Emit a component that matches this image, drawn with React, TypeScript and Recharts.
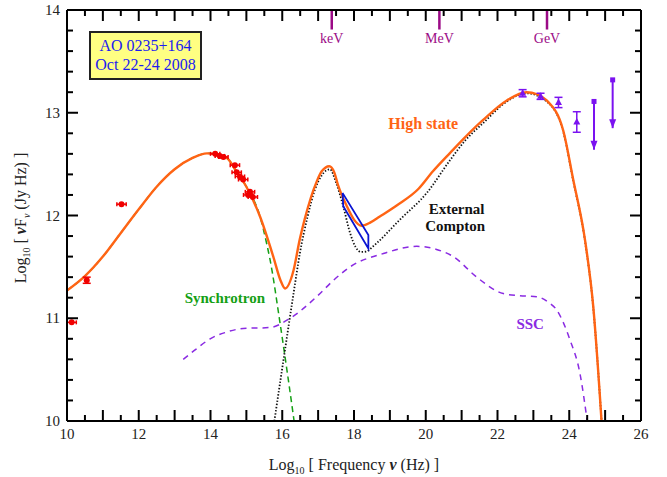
import {
  ComposedChart, Line, Scatter, XAxis, YAxis, ErrorBar, ReferenceLine, ReferenceDot,
} from 'recharts'

// model curves (log nu, log nuFnu)
const highX = [10, 10.5, 11, 11.5, 12, 12.5, 13, 13.5, 13.9, 14.45, 14.7, 15, 15.38, 15.75, 15.95, 16.08, 16.31, 16.49, 16.63, 16.96, 17.1, 17.31, 17.45, 17.56, 17.8, 18.0, 18.21, 18.45, 18.72, 19.2, 19.8, 20.2, 20.68, 21.15, 21.6, 22.26, 22.81, 23.1, 23.37, 23.83, 24.11, 24.44, 24.67, 24.9]
const highY = [11.27, 11.41, 11.6, 11.83, 12.06, 12.28, 12.45, 12.56, 12.605, 12.56, 12.44, 12.28, 11.99, 11.6, 11.37, 11.29, 11.46, 11.77, 11.97, 12.33, 12.43, 12.48, 12.42, 12.29, 12.09, 11.96, 11.9, 11.93, 11.99, 12.1, 12.26, 12.43, 12.61, 12.78, 12.93, 13.12, 13.2, 13.18, 13.12, 12.83, 12.35, 11.76, 11.11, 10.0]

const ecX = [15.78, 16.08, 16.31, 16.49, 16.7, 16.91, 17.1, 17.33, 17.5, 17.7, 17.89, 18.05, 18.2, 18.35, 18.5, 18.63, 19.28, 20.03, 20.68, 21.1, 21.6, 22.26, 22.81, 23.37, 23.83, 24.11, 24.44, 24.67, 24.9]
const ecY = [10.0, 10.7, 11.23, 11.63, 11.98, 12.25, 12.39, 12.45, 12.32, 12.09, 11.83, 11.69, 11.645, 11.65, 11.69, 11.73, 11.96, 12.22, 12.54, 12.73, 12.9, 13.11, 13.19, 13.11, 12.82, 12.34, 11.75, 11.1, 10.0]

const syncX = [10, 10.5, 11, 11.5, 12, 12.5, 13, 13.5, 13.9, 14.45, 14.7, 15, 15.38, 15.57, 15.66, 15.94, 16.17, 16.33]
const syncY = [11.27, 11.41, 11.6, 11.83, 12.06, 12.28, 12.45, 12.56, 12.605, 12.56, 12.44, 12.28, 11.99, 11.72, 11.57, 10.95, 10.4, 10.0]

const sscX = [13.24, 13.6, 13.99, 14.4, 14.91, 15.66, 16.22, 16.96, 17.4, 17.89, 18.82, 19.75, 20.3, 20.77, 21.42, 22.16, 22.6, 23.09, 23.4, 23.65, 24.02, 24.3, 24.5]
const sscY = [10.6, 10.7, 10.8, 10.86, 10.9, 10.91, 11.0, 11.21, 11.36, 11.5, 11.63, 11.7, 11.67, 11.6, 11.4, 11.24, 11.22, 11.21, 11.16, 11.08, 10.79, 10.46, 10.0]

// X-ray bow tie outline
const bowX = [17.68, 18.4, 18.4, 17.7, 17.68]
const bowY = [12.22, 11.81, 11.68, 12.09, 12.22]

// radio / optical points
const radX = [10.13, 10.55, 11.52, 14.13, 14.26, 14.36, 14.68, 14.73, 14.82, 14.91, 15.05, 15.1, 15.18]
const radY = [10.96, 11.37, 12.11, 12.6, 12.58, 12.57, 12.49, 12.42, 12.38, 12.35, 12.2, 12.23, 12.18]
const radXErr = [0.13, 0, 0.13, 0.13, 0.13, 0.13, 0.13, 0.13, 0.13, 0.13, 0.13, 0.13, 0.13]
const radYErr = [0, 0.03, 0, 0, 0, 0, 0, 0, 0, 0, 0, 0, 0]

// Fermi points and upper limits
const gamX = [22.7, 23.2, 23.7, 24.21]
const gamY = [13.19, 13.16, 13.1, 12.91]
const gamErr = [0.035, 0.03, 0.05, 0.1]
const ulX = [24.69, 25.21]
const ulY = [13.11, 13.32]
const ulLen = [0.47, 0.47]

const bandX = [17.38, 20.38, 23.38]
const bandLabels = ['keV', 'MeV', 'GeV']

const xTicks = [10, 10.5, 11, 11.5, 12, 12.5, 13, 13.5, 14, 14.5, 15, 15.5, 16, 16.5, 17, 17.5, 18, 18.5, 19, 19.5, 20, 20.5, 21, 21.5, 22, 22.5, 23, 23.5, 24, 24.5, 25, 25.5, 26]
const xLabels = [10, 12, 14, 16, 18, 20, 22, 24, 26]
const yTicks = [10, 10.2, 10.4, 10.6, 10.8, 11, 11.2, 11.4, 11.6, 11.8, 12, 12.2, 12.4, 12.6, 12.8, 13, 13.2, 13.4, 13.6, 13.8, 14]
const yLabels = [10, 11, 12, 13, 14]

const pairs = (xs: number[], ys: number[]) => xs.map((x, i) => ({ x, y: ys[i] }))

const high = pairs(highX, highY)
const ec = pairs(ecX, ecY)
const sync = pairs(syncX, syncY)
const ssc = pairs(sscX, sscY)
const bow = pairs(bowX, bowY)
const radio = radX.map((x, i) => ({ x, y: radY[i], ex: radXErr[i], ey: radYErr[i] }))
const gamma = gamX.map((x, i) => ({ x, y: gamY[i], ey: gamErr[i] }))
const uls = ulX.map((x, i) => ({ x, y: ulY[i], ey: [ulLen[i], 0] }))
const ulTips = ulX.map((x, i) => ({ x, y: ulY[i] - ulLen[i] }))

const RED = '#f00000'
const ORANGE = '#ff6414'
const VIOLET = '#7a12f0'
const BAND = '#9b0a86'
const SERIF = '"Liberation Serif", "Times New Roman", "DejaVu Serif", serif'

const isMajor = (v: number) => Math.abs(v - Math.round(v)) < 1e-6

function BottomTick({ x, y, payload }: any) {
  const v = payload.value
  const len = isMajor(v) ? 11 : 6
  return (
    <g>
      <line x1={x} x2={x} y1={y} y2={y - len} stroke="#000" strokeWidth={2} />
      {xLabels.includes(v) && (
        <text x={x} y={y + 18} textAnchor="middle" fontSize={15} fill="#222" fontFamily={SERIF}>{v}</text>
      )}
    </g>
  )
}

function TopTick({ x, y, payload }: any) {
  const len = isMajor(payload.value) ? 11 : 6
  return <line x1={x} x2={x} y1={y} y2={y + len} stroke="#000" strokeWidth={2} />
}

function LeftTick({ x, y, payload }: any) {
  const v = payload.value
  const len = isMajor(v) ? 11 : 6
  return (
    <g>
      <line x1={x} x2={x + len} y1={y} y2={y} stroke="#000" strokeWidth={2} />
      {yLabels.includes(v) && (
        <text x={x - 7} y={y + 5} textAnchor="end" fontSize={15} fill="#222" fontFamily={SERIF}>{v}</text>
      )}
    </g>
  )
}

function RightTick({ x, y, payload }: any) {
  const len = isMajor(payload.value) ? 11 : 6
  return <line x1={x} x2={x - len} y1={y} y2={y} stroke="#000" strokeWidth={2} />
}

const RedDot = (p: any) => <circle cx={p.cx} cy={p.cy} r={3} fill={RED} />
const GamTri = (p: any) => (
  <path d={`M${p.cx},${p.cy - 4} L${p.cx + 3.5},${p.cy + 2.5} L${p.cx - 3.5},${p.cy + 2.5} Z`} fill={VIOLET} />
)
const UlSquare = (p: any) => <rect x={p.cx - 2.5} y={p.cy - 2.5} width={5} height={5} fill={VIOLET} />
const UlTip = (p: any) => (
  <path d={`M${p.cx},${p.cy} L${p.cx - 3.5},${p.cy - 9} L${p.cx + 3.5},${p.cy - 9} Z`} fill={VIOLET} />
)

const axisLine = { stroke: '#000', strokeWidth: 2 }
const note = { position: 'center' as const, fontWeight: 'bold', fontFamily: SERIF }

export default function App() {
  return (
    <div style={{ position: 'absolute', left: 0, top: 0, width: 667, height: 477, background: '#fff', fontFamily: SERIF }}>
      <ComposedChart width={667} height={477} margin={{ top: 0, right: 0, bottom: 0, left: 0 }}>
        <XAxis xAxisId="b" type="number" dataKey="x" domain={[10, 26]} ticks={xTicks} interval={0}
          allowDataOverflow height={56} axisLine={axisLine} tickLine={false} tickSize={0} tickMargin={0}
          tick={(p: any) => <BottomTick {...p} />} />
        <XAxis xAxisId="t" orientation="top" type="number" dataKey="x" domain={[10, 26]} ticks={xTicks} interval={0}
          allowDataOverflow height={10} axisLine={axisLine} tickLine={false} tickSize={0} tickMargin={0}
          tick={(p: any) => <TopTick {...p} />} />
        <YAxis yAxisId="l" type="number" dataKey="y" domain={[10, 14]} ticks={yTicks} interval={0}
          allowDataOverflow width={67} axisLine={axisLine} tickLine={false} tickSize={0} tickMargin={0}
          tick={(p: any) => <LeftTick {...p} />} />
        <YAxis yAxisId="r" orientation="right" type="number" dataKey="y" domain={[10, 14]} ticks={yTicks} interval={0}
          allowDataOverflow width={26} axisLine={axisLine} tickLine={false} tickSize={0} tickMargin={0}
          tick={(p: any) => <RightTick {...p} />} />

        {bandX.map((bx, i) => (
          <ReferenceLine key={bandLabels[i]} xAxisId="b" yAxisId="l" ifOverflow="visible"
            segment={[{ x: bx, y: 14 }, { x: bx, y: 13.81 }]} stroke={BAND} strokeWidth={2.5}
            label={{ value: bandLabels[i], position: 'bottom', fill: BAND, fontSize: 14, offset: 4, fontFamily: SERIF }} />
        ))}

        <Line xAxisId="b" yAxisId="l" data={ssc} dataKey="y" type="monotone" stroke="#8a2be2"
          strokeWidth={1.5} strokeDasharray="6 5" dot={false} isAnimationActive={false} />
        <Line xAxisId="b" yAxisId="l" data={sync} dataKey="y" type="monotone" stroke="#14a014"
          strokeWidth={1.5} strokeDasharray="6 4" dot={false} isAnimationActive={false} />
        <Line xAxisId="b" yAxisId="l" data={ec} dataKey="y" type="monotone" stroke="#111"
          strokeWidth={1.8} strokeDasharray="1.4 1.8" dot={false} isAnimationActive={false} />
        <Line xAxisId="b" yAxisId="l" data={high} dataKey="y" type="monotone" stroke={ORANGE}
          strokeWidth={2.4} dot={false} isAnimationActive={false} />
        <Line xAxisId="b" yAxisId="l" data={bow} dataKey="y" type="linear" stroke="#0a14d2"
          strokeWidth={1.8} dot={false} isAnimationActive={false} />

        <Scatter xAxisId="b" yAxisId="l" data={radio} dataKey="y" shape={RedDot} isAnimationActive={false}>
          <ErrorBar dataKey="ex" direction="x" width={2} stroke={RED} strokeWidth={1.5} />
          <ErrorBar dataKey="ey" direction="y" width={4} stroke={RED} strokeWidth={1.5} />
        </Scatter>
        <Scatter xAxisId="b" yAxisId="l" data={gamma} dataKey="y" shape={GamTri} isAnimationActive={false}>
          <ErrorBar dataKey="ey" direction="y" width={4} stroke={VIOLET} strokeWidth={1.5} />
        </Scatter>
        <Scatter xAxisId="b" yAxisId="l" data={uls} dataKey="y" shape={UlSquare} isAnimationActive={false}>
          <ErrorBar dataKey="ey" direction="y" width={0} stroke={VIOLET} strokeWidth={2} />
        </Scatter>
        <Scatter xAxisId="b" yAxisId="l" data={ulTips} dataKey="y" shape={UlTip} isAnimationActive={false} />

        <ReferenceDot xAxisId="b" yAxisId="l" x={19.93} y={12.9} r={0} ifOverflow="visible"
          label={{ ...note, value: 'High state', fill: ORANGE, fontSize: 16 }} />
        <ReferenceDot xAxisId="b" yAxisId="l" x={20.86} y={12.07} r={0} ifOverflow="visible"
          label={{ ...note, value: 'External', fill: '#111', fontSize: 15 }} />
        <ReferenceDot xAxisId="b" yAxisId="l" x={20.82} y={11.9} r={0} ifOverflow="visible"
          label={{ ...note, value: 'Compton', fill: '#111', fontSize: 15 }} />
        <ReferenceDot xAxisId="b" yAxisId="l" x={14.4} y={11.2} r={0} ifOverflow="visible"
          label={{ ...note, value: 'Synchrotron', fill: '#14a014', fontSize: 15 }} />
        <ReferenceDot xAxisId="b" yAxisId="l" x={22.91} y={10.95} r={0} ifOverflow="visible"
          label={{ ...note, value: 'SSC', fill: '#8a2be2', fontSize: 15 }} />
      </ComposedChart>

      <svg width={667} height={477} style={{ position: 'absolute', left: 0, top: 0, pointerEvents: 'none' }}>
        <text x={354} y={470} textAnchor="middle" fontSize={16} fill="#222" fontFamily={SERIF}>
          Log<tspan fontSize={10} dy={4}>10</tspan>
          <tspan dy={-4}> [ Frequency </tspan>
          <tspan fontStyle="italic" fontWeight="bold">ν</tspan>
          <tspan> (Hz) ]</tspan>
        </text>
        <text x={26} y={218} transform="rotate(-90 26 218)" textAnchor="middle" fontSize={16} fill="#222" fontFamily={SERIF}>
          Log<tspan fontSize={10} dy={4}>10</tspan>
          <tspan dy={-4}> [ </tspan>
          <tspan fontStyle="italic" fontWeight="bold">ν</tspan>
          <tspan>F</tspan>
          <tspan fontSize={10} dy={4} fontStyle="italic">ν</tspan>
          <tspan dy={-4}> (Jy Hz) ]</tspan>
        </text>
      </svg>

      <div style={{
        position: 'absolute', left: 89, top: 31, width: 109, height: 42, background: '#ffff82',
        border: '2px solid #222', color: '#1c1cf0', fontSize: 16, lineHeight: '19px',
        textAlign: 'center', paddingTop: 3, boxSizing: 'content-box',
      }}>
        AO 0235+164<br />Oct 22-24 2008
      </div>
    </div>
  )
}
